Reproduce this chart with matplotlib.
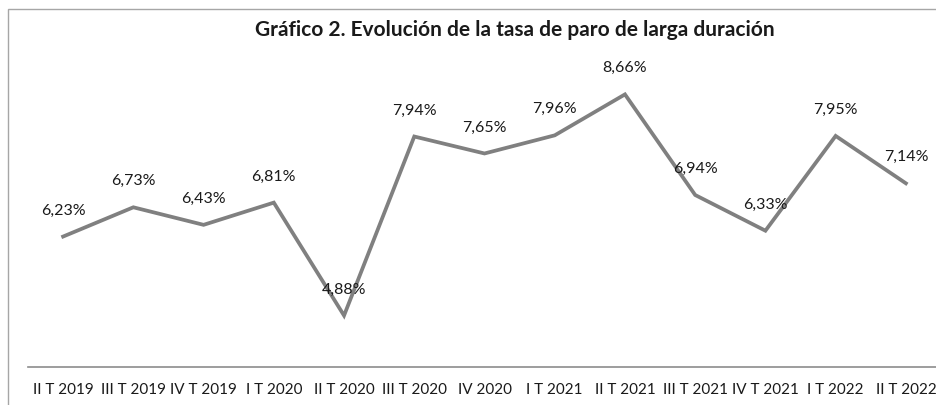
import matplotlib.pyplot as plt
from matplotlib.patches import Rectangle

# datos del gráfico
trimestres = ["II T 2019", "III T 2019", "IV T 2019", "I T 2020", "II T 2020",
              "III T 2020", "IV 2020", "I T 2021", "II T 2021", "III T 2021",
              "IV T 2021", "I T 2022", "II T 2022"]
tasa_paro = [6.23, 6.73, 6.43, 6.81, 4.88, 7.94, 7.65, 7.96, 8.66, 6.94,
             6.33, 7.95, 7.14]

W, H = 937, 406
fig = plt.figure(figsize=(W / 100, H / 100), dpi=100)
plt.rcParams['font.family'] = ['Lato', 'DejaVu Sans']

# marco del gráfico (se sale por la derecha y abajo)
fig.patches.append(Rectangle((8 / W, -0.1), 1.2, 1 - 10 / H + 0.1,
                             transform=fig.transFigure, fill=False,
                             edgecolor='#a6a6a6', linewidth=1.0))

# area de trazado
left, right = 28 / W, 941 / W
bottom, top = 38 / H, 1 - 75.5 / H
ax = fig.add_axes([left, bottom, right - left, top - bottom])
ax.set_facecolor('none')

x = list(range(len(trimestres)))
ax.plot(x, tasa_paro, color='#808080', linewidth=2.7, solid_joinstyle='miter')

for xi, v in zip(x, tasa_paro):
    ax.annotate(f"{v:.2f}%".replace('.', ','), (xi, v), xytext=(0, 19.5),
                textcoords='offset points', ha='center', va='center',
                fontsize=11.5, color='#1a1a1a')

ax.set_xlim(-0.5, len(trimestres) - 0.5)
ax.set_ylim(4, 9)
ax.set_xticks(x)
ax.set_xticklabels(trimestres, fontsize=11, color='#1a1a1a')
ax.tick_params(axis='x', length=0, pad=11)
ax.set_yticks([])
for s in ['top', 'right', 'left']:
    ax.spines[s].set_visible(False)
ax.spines['bottom'].set_color('#8c8c8c')
ax.spines['bottom'].set_linewidth(1.2)

fig.text(515 / W, 1 - 30 / H, "Gráfico 2. Evolución de la tasa de paro de larga duración",
         ha='center', va='center', fontsize=15, fontweight='bold', color='#1a1a1a')

fig.savefig("out.png", dpi=100)
